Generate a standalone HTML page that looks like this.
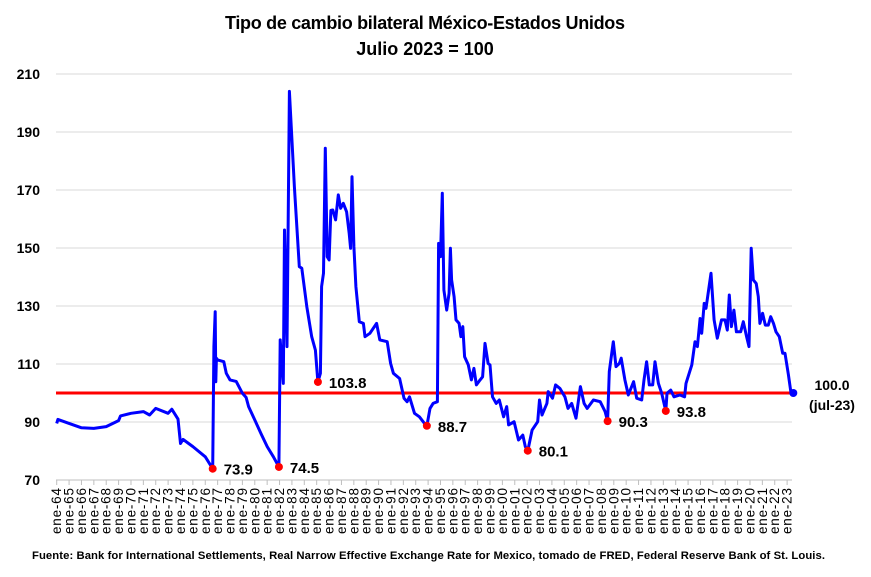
<!DOCTYPE html>
<html><head><meta charset="utf-8">
<style>
body{margin:0;background:#fff;font-family:"Liberation Sans",Arial,sans-serif;}
#wrap{position:relative;width:871px;height:577px;overflow:hidden;}
svg text{font-family:"Liberation Sans",Arial,sans-serif;}
</style></head>
<body>
<div id="wrap">
<svg id="chart" width="871" height="577">
<text x="425" y="29" text-anchor="middle" font-size="18" font-weight="bold" textLength="400">Tipo de cambio bilateral México-Estados Unidos</text>
<text x="425" y="55" text-anchor="middle" font-size="18" font-weight="bold">Julio 2023 = 100</text>
<g id="grid"></g><g id="yticks"></g><g id="xticks"></g><g id="series"></g><g id="marks"></g>
<text x="32" y="559" font-size="11.3" font-weight="bold" textLength="793">Fuente: Bank for International Settlements, Real Narrow Effective Exchange Rate for Mexico, tomado de FRED, Federal Reserve Bank of St. Louis.</text>
</svg>
</div>
<script>
const yTicks=[70,90,110,130,150,170,190,210];
const years=[];for(let y=1964;y<=2023;y++)years.push(y);
const times=[1964.0,1964.1,1965,1966,1967,1968,1969,1969.15,1970,1971,1971.5,1972,1973,1973.3,1973.8,1974.0,1974.2,1975,1976,1976.6,1976.7,1976.8,1976.85,1976.9,1977.0,1977.5,1977.7,1978,1978.5,1979,1979.3,1979.5,1980,1980.5,1981,1981.5,1981.95,1982.05,1982.3,1982.4,1982.6,1982.8,1983.2,1983.6,1983.8,1984.2,1984.6,1984.9,1985.1,1985.3,1985.4,1985.55,1985.7,1985.85,1986.0,1986.15,1986.3,1986.53,1986.75,1986.93,1987.15,1987.42,1987.63,1987.74,1987.85,1988.01,1988.17,1988.44,1988.77,1988.9,1989.3,1989.84,1990.1,1990.7,1990.97,1991.2,1991.7,1992.05,1992.3,1992.5,1992.9,1993.3,1993.8,1993.9,1994.15,1994.4,1994.75,1994.85,1995.0,1995.15,1995.28,1995.5,1995.7,1995.8,1995.9,1996.1,1996.25,1996.5,1996.65,1996.8,1996.95,1997.25,1997.5,1997.7,1997.9,1998.2,1998.4,1998.6,1998.85,1999.0,1999.2,1999.5,1999.75,2000.1,2000.35,2000.5,2000.95,2001.3,2001.65,2001.85,2002.05,2002.4,2002.85,2003.0,2003.2,2003.6,2003.7,2004.05,2004.3,2004.65,2005.05,2005.3,2005.6,2005.95,2006.3,2006.6,2006.85,2007.35,2007.9,2008.3,2008.5,2008.64,2008.96,2009.18,2009.45,2009.6,2009.9,2010.17,2010.6,2010.85,2011.25,2011.44,2011.65,2011.87,2012.14,2012.33,2012.6,2012.87,2013.2,2013.3,2013.6,2013.86,2014.35,2014.72,2014.83,2015.3,2015.56,2015.75,2015.97,2016.1,2016.3,2016.45,2016.6,2016.85,2017.1,2017.36,2017.7,2017.98,2018.17,2018.33,2018.5,2018.7,2018.9,2019.25,2019.46,2019.73,2019.92,2020.1,2020.27,2020.5,2020.67,2020.8,2021.02,2021.24,2021.48,2021.67,2021.9,2022.1,2022.37,2022.64,2022.83,2023.1,2023.3,2023.5];
const values=[89.5,90.9,89.5,88.0,87.8,88.4,90.5,92.1,93.0,93.6,92.4,94.7,93.0,94.4,91,82.6,84,81.5,78,73.9,116,128,103.9,112,111.4,110.8,106.8,104.5,104,99.9,98.5,95.3,90.7,86,81.5,78,74.5,118.3,103.3,156.2,116,204,171,143.6,143,129.8,119.4,114.8,103.8,106.8,136.7,141.3,184.4,147,145.9,163,163.1,159.7,168.3,163.7,165.4,162.5,155,149.9,174.6,150.5,136.7,124.6,124,119.4,120.6,124,118.3,117.7,110.2,106.8,105,98.2,97,98.7,93,91.8,89,88.7,94.7,96.4,97,151.6,147,168.9,135.5,128.6,134.4,149.9,139,133.2,125.2,124,119.4,122.9,112.5,109.7,104.5,108.5,102.8,104.5,105.6,117.1,110.2,109.7,98.7,96.4,97.6,91.8,95.3,89,90.1,83.8,85.5,81.5,80.1,87.2,90.1,97.6,92.4,96.4,100.5,98.2,102.8,101.6,98.7,94.7,96.4,91.3,102.2,96.4,94.7,97.6,97,93.6,90.3,107.4,117.7,109.1,110.2,112,104.5,99.3,103.9,98.2,97.6,104.5,110.8,102.8,102.8,110.8,103.3,99.9,93.8,99.9,101,98.7,99.3,98.7,103.3,109.7,117.7,116,125.7,120.6,130.9,129.2,133.8,141.3,125.2,118.9,125.2,125.2,121.7,133.8,122.9,128.6,121.1,121.1,124.6,119.4,116,149.9,139,137.8,133.2,124,127.5,123.4,123.4,126.3,124,121.1,119.4,113.7,113.7,106.3,100.5,100];
const minTimes=[1976.6,1981.95,1985.1,1993.9,2002.05,2008.5,2013.2];
const minValues=[73.9,74.5,103.8,88.7,80.1,90.3,93.8];
const minLabels=["73.9","74.5","103.8","88.7","80.1","90.3","93.8"];
const refValue=100;
const lastLabel=["100.0","(jul-23)"];

const NS="http://www.w3.org/2000/svg";
const X0=56.7,YW=12.38,PL=56,PR=792,YB=480,YT=74,VMIN=70,VMAX=210;
function xs(t){return X0+(t-1964)*YW;}
function ys(v){return YB-(v-VMIN)*(YB-YT)/(VMAX-VMIN);}
function mk(tag,attrs,parent,txt){const e=document.createElementNS(NS,tag);for(const k in attrs)e.setAttribute(k,attrs[k]);if(txt!==undefined)e.textContent=txt;parent.appendChild(e);return e;}
const grid=document.getElementById('grid'),yt=document.getElementById('yticks'),xt=document.getElementById('xticks'),ser=document.getElementById('series'),marks=document.getElementById('marks');
yTicks.forEach(v=>{
  if(v!==VMIN){const l=mk('line',{x1:PL,x2:PR,y1:ys(v),y2:ys(v),stroke:'#d9d9d9','stroke-width':1},grid);
  
  }
  const t=mk('text',{x:40,y:ys(v)+5,'text-anchor':'end','font-size':14,'font-weight':'bold'},yt,String(v));
  
  
});
const ax=mk('line',{x1:PL,x2:PR,y1:YB,y2:YB,stroke:'#bfbfbf','stroke-width':1},xt);


years.forEach(y=>{
  const x=xs(y);
  const tk=mk('line',{x1:x,x2:x,y1:YB,y2:YB+5,stroke:'#bfbfbf','stroke-width':1},xt);
  
  
  const lab='ene-'+String(y%100).padStart(2,'0');
  const t=mk('text',{x:0,y:0,'text-anchor':'end','font-size':13.5,textLength:46,transform:`translate(${x+4.5},488) rotate(-90)`},xt,lab);
  
  
});
const rl=mk('line',{x1:PL,x2:PR,y1:ys(refValue),y2:ys(refValue),stroke:'#ff0000','stroke-width':3},ser);


const pts=times.map((t,i)=>xs(t).toFixed(1)+','+ys(values[i]).toFixed(1)).join(' ');
const pl=mk('polyline',{points:pts,fill:'none',stroke:'#0000ff','stroke-width':3,'stroke-linejoin':'round'},ser);


minTimes.forEach((t,i)=>{
  const c=mk('circle',{cx:xs(t),cy:ys(minValues[i]),r:4,fill:'#ff0000'},marks);
  
  
  const tx=mk('text',{x:xs(t)+11,y:ys(minValues[i])+6,'font-size':15,'font-weight':'bold'},marks,minLabels[i]);
  
  
});
const lt=times[times.length-1],lv=values[values.length-1];
const ec=mk('circle',{cx:xs(lt),cy:ys(lv),r:4,fill:'#0000ff'},marks);


const l1=mk('text',{x:832,y:ys(lv)-3,'text-anchor':'middle','font-size':14,'font-weight':'bold'},marks,lastLabel[0]);


const l2=mk('text',{x:832,y:ys(lv)+17,'text-anchor':'middle','font-size':14,'font-weight':'bold'},marks,lastLabel[1]);


</script>
</body></html>
